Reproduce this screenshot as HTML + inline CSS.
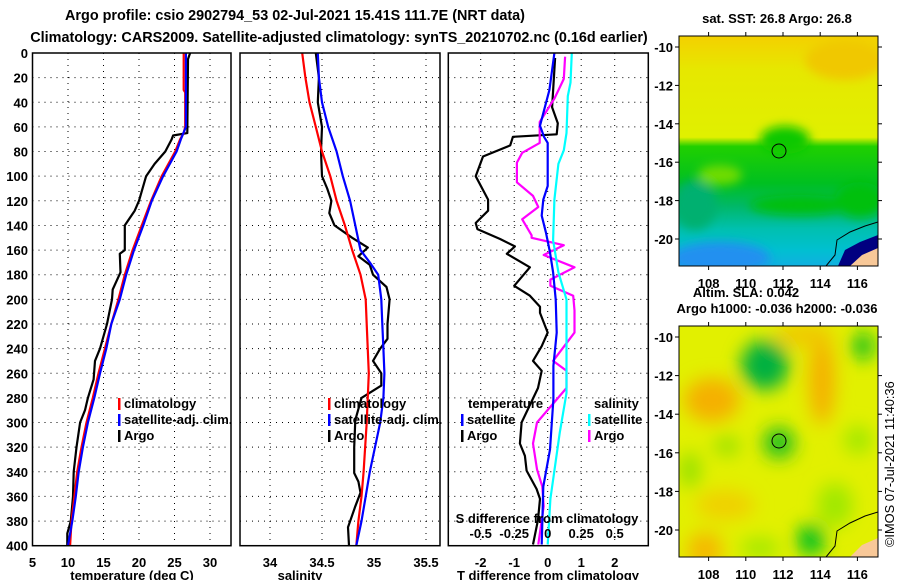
<!DOCTYPE html>
<html><head><meta charset="utf-8"><style>
body{margin:0;background:#fff}
svg{display:block;font-family:"Liberation Sans",sans-serif;font-weight:bold}
text{font-size:13px}
</style></head><body>
<svg id="c" width="900" height="580" viewBox="0 0 900 580">
<defs>
<filter id="bl" x="-50%" y="-50%" width="200%" height="200%"><feGaussianBlur stdDeviation="9"/></filter>
<filter id="bl2" x="-50%" y="-50%" width="200%" height="200%"><feGaussianBlur stdDeviation="5"/></filter>
<clipPath id="m1"><rect x="679" y="36" width="199" height="230"/></clipPath>
<clipPath id="m2"><rect x="679" y="326" width="199" height="231"/></clipPath>
<linearGradient id="sst" x1="0" y1="0" x2="0" y2="1">
<stop offset="0" stop-color="#f4d000"/><stop offset="0.15" stop-color="#e6e800"/><stop offset="0.44" stop-color="#e0f000"/>
<stop offset="0.48" stop-color="#20d000"/><stop offset="0.64" stop-color="#00c020"/><stop offset="0.74" stop-color="#00b868"/><stop offset="0.84" stop-color="#00c0b0"/><stop offset="0.93" stop-color="#00c0d0"/><stop offset="1" stop-color="#10b0e0"/>
</linearGradient>
</defs>
<text x="295" y="20" text-anchor="middle" style="font-size:14.4px">Argo profile: csio 2902794_53 02-Jul-2021 15.41S 111.7E (NRT data)</text>
<text x="339" y="42" text-anchor="middle" style="font-size:14.4px">Climatology: CARS2009. Satellite-adjusted climatology: synTS_20210702.nc (0.16d earlier)</text>
<g id="panels"></g>

<!-- SST map -->
<g>
<text x="777" y="23" text-anchor="middle">sat. SST: 26.8 Argo: 26.8</text>
<g clip-path="url(#m1)">
<rect x="679" y="36" width="199" height="230" fill="url(#sst)"/>
<g filter="url(#bl2)">
<ellipse cx="785" cy="140" rx="25" ry="14" fill="#10c800"/>
<ellipse cx="720" cy="175" rx="22" ry="10" fill="#70dc00"/>
<ellipse cx="695" cy="205" rx="22" ry="25" fill="#00b070"/>
<ellipse cx="720" cy="258" rx="50" ry="16" fill="#2090f0"/>
<ellipse cx="800" cy="205" rx="50" ry="10" fill="#00c010"/>
<ellipse cx="860" cy="200" rx="25" ry="18" fill="#00c010"/>
<ellipse cx="845" cy="60" rx="40" ry="20" fill="#f0c800"/>
</g>
<path d="M838 266 L845 250 L860 242 L878 235 L878 266 Z" fill="#000080"/>
<path d="M850 266 L862 255 L878 248 L878 266 Z" fill="#f8c898"/>
<path d="M826 266 L835 255 L837 240 L850 232 L865 226 L878 222" fill="none" stroke="#000" stroke-width="1"/>
<circle cx="779" cy="151" r="7" fill="none" stroke="#000" stroke-width="1"/>
</g>
<rect x="679" y="36" width="199" height="230" fill="none" stroke="#000" stroke-width="1"/>
</g>
<!-- SLA map -->
<g>
<text x="746" y="297" text-anchor="middle">Altim. SLA: 0.042</text>
<text x="777" y="313" text-anchor="middle">Argo h1000: -0.036 h2000: -0.036</text>
<g clip-path="url(#m2)">
<rect x="679" y="326" width="199" height="231" fill="#e2f000"/>
<g filter="url(#bl)">
<ellipse cx="712" cy="400" rx="28" ry="22" fill="#f5b000"/>
<ellipse cx="822" cy="380" rx="13" ry="45" fill="#f5b000"/>
<ellipse cx="805" cy="335" rx="30" ry="12" fill="#f0c800"/>
<ellipse cx="705" cy="550" rx="18" ry="18" fill="#f5b800"/>
<ellipse cx="725" cy="505" rx="30" ry="15" fill="#f0d000"/>
<ellipse cx="765" cy="365" rx="24" ry="25" fill="#00b040"/>
<ellipse cx="863" cy="346" rx="11" ry="14" fill="#10c020"/>
<ellipse cx="779" cy="443" rx="16" ry="16" fill="#20c020"/>
<ellipse cx="727" cy="446" rx="13" ry="9" fill="#90e000"/>
<ellipse cx="690" cy="470" rx="10" ry="18" fill="#90e000"/>
<ellipse cx="811" cy="540" rx="14" ry="16" fill="#00c020"/>
<ellipse cx="835" cy="505" rx="18" ry="22" fill="#a0e800"/>
<ellipse cx="858" cy="440" rx="14" ry="14" fill="#a0e800"/>
<ellipse cx="760" cy="548" rx="20" ry="10" fill="#a0e800"/>
</g>
<path d="M850 557 L862 545 L878 538 L878 557 Z" fill="#f8c898"/>
<path d="M826 557 L835 546 L837 531 L850 523 L865 516 L878 512" fill="none" stroke="#000" stroke-width="1"/>
<circle cx="779" cy="441" r="7" fill="none" stroke="#000" stroke-width="1"/>
</g>
<rect x="679" y="326" width="199" height="231" fill="none" stroke="#000" stroke-width="1"/>
</g>
<text transform="translate(894,547) rotate(-90)" style="font-size:12.8px;font-weight:normal">©IMOS 07-Jul-2021 11:40:36</text>
</svg>
<script>
// depth axis
var depthTicks=[0,20,40,60,80,100,120,140,160,180,200,220,240,260,280,300,320,340,360,380,400];
// temperature panel
var tTicks=[5,10,15,20,25,30];
var tClimD=[0,30,32,60,65,70,80,100,120,140,160,180,200,220,240,260,280,300,320,340,360,380,400];
var tClimV=[26.3,26.3,26.5,26.5,26.3,25.8,25.1,23.2,21.7,20.4,19.1,18.0,17.1,16.1,15.2,14.3,13.5,12.6,11.9,11.3,10.9,10.5,10.3];
var tSatD=[0,60,70,80,100,120,140,160,180,200,220,240,260,280,300,320,340,360,380,400];
var tSatV=[26.6,26.6,25.9,25.3,23.4,21.8,20.6,19.3,18.2,17.3,16.1,15.4,14.5,13.7,12.8,12.1,11.5,11.1,10.6,10.0];
var tArgoD=[0,5,65,67,70,80,90,100,120,128,140,160,163,178,192,200,220,240,250,265,280,290,300,320,340,360,380,390,400];
var tArgoV=[27.2,26.9,26.8,24.8,24.6,23.7,22.2,21.0,20.0,19.4,18.0,18.0,17.3,17.4,16.3,16.2,15.5,14.5,13.8,13.6,12.8,12.4,11.7,11.2,10.8,10.7,10.4,9.9,9.9];
// salinity panel
var sTicks=[34,34.5,35,35.5];
var sClimD=[0,20,40,60,80,100,120,140,160,180,200,220,260,300,340,360,380,400];
var sClimV=[34.31,34.34,34.38,34.44,34.50,34.58,34.64,34.72,34.79,34.87,34.92,34.93,34.95,34.93,34.90,34.88,34.85,34.83];
var sSatD=[0,20,40,60,80,100,120,140,160,170,180,200,220,240,260,280,300,320,340,360,380,400];
var sSatV=[34.46,34.47,34.50,34.56,34.64,34.70,34.77,34.82,34.87,34.96,35.04,35.07,35.08,35.09,35.10,35.09,35.06,35.01,34.96,34.92,34.88,34.83];
var sArgoD=[0,20,40,60,80,100,110,120,130,140,150,158,165,172,180,190,200,220,232,240,250,260,270,280,298,320,341,348,357,368,385,400];
var sArgoV=[34.44,34.47,34.46,34.50,34.49,34.50,34.55,34.59,34.57,34.62,34.79,34.94,34.85,34.96,34.99,35.12,35.15,35.13,35.13,35.06,34.99,35.07,35.07,34.88,34.82,34.81,34.81,34.85,34.87,34.82,34.75,34.76];
// difference panel
var dTicks=[-2,-1,0,1,2];
var dsTicks=[-0.5,-0.25,0,0.25,0.5];
var dtSatD=[0,30,59,68,73,108,119,132,146,162,178,200,227,254,281,322,352,399];
var dtSatV=[0.2,0.05,-0.23,-0.11,0,0,-0.13,-0.18,-0.05,0.07,0.16,0.24,0.27,0.17,0.17,0.07,-0.13,-0.18];
var dtArgoD=[4,44,57,66,68,75,84,100,119,128,138,143,151,157,163,174,189,197,206,211,227,238,250,258,272,300,317,327,339,354,362,379,399];
var dtArgoV=[0.22,0.13,0.3,0.27,-1.04,-1.12,-1.93,-2.15,-1.78,-1.78,-2.15,-2.1,-1.42,-0.98,-1.22,-0.53,-1.0,-0.53,-0.23,-0.23,0,-0.18,-0.44,-0.18,-0.29,-0.78,-0.83,-0.68,-0.63,-0.33,-0.23,-0.29,-0.44];
var dsSatD=[0,24,35,65,79,90,119,152,178,200,216,276,308,362,399];
var dsSatV=[0.18,0.17,0.15,0.14,0.12,0.08,0.05,0.04,0.08,0.14,0.14,0.14,0.09,0.02,0];
var dsArgoD=[3,21,37,56,73,81,89,105,116,125,135,148,150,156,164,174,184,189,197,209,227,250,258,272,300,317,338,352,368,399];
var dsArgoV=[0.13,0.12,0.05,-0.06,-0.06,-0.19,-0.23,-0.23,-0.11,-0.07,-0.19,-0.12,-0.12,0.12,-0.03,0.2,0.02,0.02,0.19,0.2,0.2,0.04,0.14,0.14,-0.08,-0.11,-0.08,-0.04,-0.03,-0.07];
// map axes
var lonTicks=[108,110,112,114,116];
var latTicks=[-10,-12,-14,-16,-18,-20];

var NS='http://www.w3.org/2000/svg';
var svg=document.getElementById('c');
var G=document.getElementById('panels');
var Y0=53,Y1=545.7;
function yD(d){return Y0+d*(Y1-Y0)/400;}
function el(tag,attrs,parent,txt){var e=document.createElementNS(NS,tag);for(var k in attrs)e.setAttribute(k,attrs[k]);if(txt!==undefined)e.textContent=txt;(parent||G).appendChild(e);return e;}
function xT(t){return 32.5+(t-5)*7.1;}
function xS(s){return 270+(s-34)*104;}
function xDT(v){return 547.7+v*33.5;}
function xDS(v){return 547.7+v*134;}
function frame(x0,x1,name){
  var g=el('g',{});
  
  
  depthTicks.forEach(function(d){if(d>0&&d<400){var l=el('line',{x1:x0,x2:x1,y1:yD(d),y2:yD(d),stroke:'#000','stroke-width':1,'stroke-dasharray':'1,5'},g);
  
  }});
  return g;
}
function vgrid(g,x){var l=el('line',{x1:x,x2:x,y1:Y0,y2:Y1,stroke:'#000','stroke-width':1,'stroke-dasharray':'1,5'},g);
  
  }
function box(g,x0,x1){var r=el('rect',{x:x0,y:Y0,width:x1-x0,height:Y1-Y0,fill:'none',stroke:'#000','stroke-width':1.5},g);
  
  }
function line(g,D,V,fx,col,name){var p='';for(var i=0;i<D.length;i++)p+=(i?'L':'M')+fx(V[i]).toFixed(1)+' '+yD(D[i]).toFixed(1);
  var e=el('path',{d:p,fill:'none',stroke:col,'stroke-width':2.2,'stroke-linejoin':'round'},g);
  
  }
function txt(g,x,y,s,anchor,name){var t=el('text',{x:x,y:y,'text-anchor':anchor||'start'},g,s);
  
  return t;}
function leg(g,x,y,col,s,name){var r=el('rect',{x:x,y:y-10,width:2.5,height:12,fill:col},g);
  
  
  txt(g,x+6,y,s,'start',name);}

// temperature panel
var g1=frame(32.5,231,'temperature-panel');
tTicks.slice(1).forEach(function(t){vgrid(g1,xT(t));});
depthTicks.forEach(function(d){txt(g1,28,yD(d)+5,String(d),'end','depth-tick-label');});
tTicks.forEach(function(t){txt(g1,xT(t),567,String(t),'middle','temperature-tick-label');});
txt(g1,132,580,'temperature (deg C)','middle','temperature-axis-title');
line(g1,tArgoD,tArgoV,xT,'#000','temperature-argo-line');
line(g1,tClimD,tClimV,xT,'#f00','temperature-climatology-line');
line(g1,tSatD,tSatV,xT,'#00f','temperature-satellite-line');
leg(g1,118,408,'#f00','climatology','legend-climatology');
leg(g1,118,424,'#00f','satellite-adj. clim.','legend-satellite-adj');
leg(g1,118,440,'#000','Argo','legend-argo');
box(g1,32.5,231);

// salinity panel
var g2=frame(240,440,'salinity-panel');
sTicks.forEach(function(s){vgrid(g2,xS(s));});
sTicks.forEach(function(s){txt(g2,xS(s),567,String(s),'middle','salinity-tick-label');});
txt(g2,300,580,'salinity','middle','salinity-axis-title');
line(g2,sArgoD,sArgoV,xS,'#000','salinity-argo-line');
line(g2,sClimD,sClimV,xS,'#f00','salinity-climatology-line');
line(g2,sSatD,sSatV,xS,'#00f','salinity-satellite-line');
leg(g2,328,408,'#f00','climatology','legend-climatology');
leg(g2,328,424,'#00f','satellite-adj. clim.','legend-satellite-adj');
leg(g2,328,440,'#000','Argo','legend-argo');
box(g2,240,440);

// difference panel
var g3=frame(448.3,648.3,'difference-panel');
dTicks.forEach(function(t){vgrid(g3,xDT(t));});
dTicks.forEach(function(t){txt(g3,xDT(t),567,String(t),'middle','t-difference-tick-label');});
txt(g3,548,580,'T difference from climatology','middle','t-difference-axis-title');
line(g3,dtArgoD,dtArgoV,xDT,'#000','t-difference-argo-line');
line(g3,dsArgoD,dsArgoV,xDS,'#f0f','s-difference-argo-line');
line(g3,dsSatD,dsSatV,xDS,'#0ff','s-difference-satellite-line');
line(g3,dtSatD,dtSatV,xDT,'#00f','t-difference-satellite-line');
txt(g3,468,408,'temperature','start','legend-temperature-heading');
leg(g3,461,424,'#00f','satellite','legend-t-satellite');
leg(g3,461,440,'#000','Argo','legend-t-argo');
txt(g3,594,408,'salinity','start','legend-salinity-heading');
leg(g3,588,424,'#0ff','satellite','legend-s-satellite');
leg(g3,588,440,'#f0f','Argo','legend-s-argo');
txt(g3,547,523,'S difference from climatology','middle','s-difference-axis-title');
dsTicks.forEach(function(s){txt(g3,xDS(s),538,String(s),'middle','s-difference-tick-label');});
box(g3,448.3,648.3);

// map axes
function xLon(l){return 783+(l-112)*18.6;}
function mapAxes(top,bot,latY0,latStep,name){
  var g=el('g',{},svg);
  
  
  lonTicks.forEach(function(l){txt(g,xLon(l),bot+22,String(l),'middle','longitude-tick-label');
    el('line',{x1:xLon(l),x2:xLon(l),y1:top-4,y2:top,stroke:'#000'},g);
    el('line',{x1:xLon(l),x2:xLon(l),y1:bot,y2:bot+4,stroke:'#000'},g);});
  latTicks.forEach(function(a,i){var y=latY0+(-10-a)*latStep;txt(g,673,y+5,String(a),'end','latitude-tick-label');
    el('line',{x1:675,x2:679,y1:y,y2:y,stroke:'#000'},g);
    el('line',{x1:878,x2:882,y1:y,y2:y,stroke:'#000'},g);});
}
mapAxes(36,266,47,19.2,'sst-map-axes');
mapAxes(326,557,337,19.3,'sla-map-axes');
</script>
</body></html>
